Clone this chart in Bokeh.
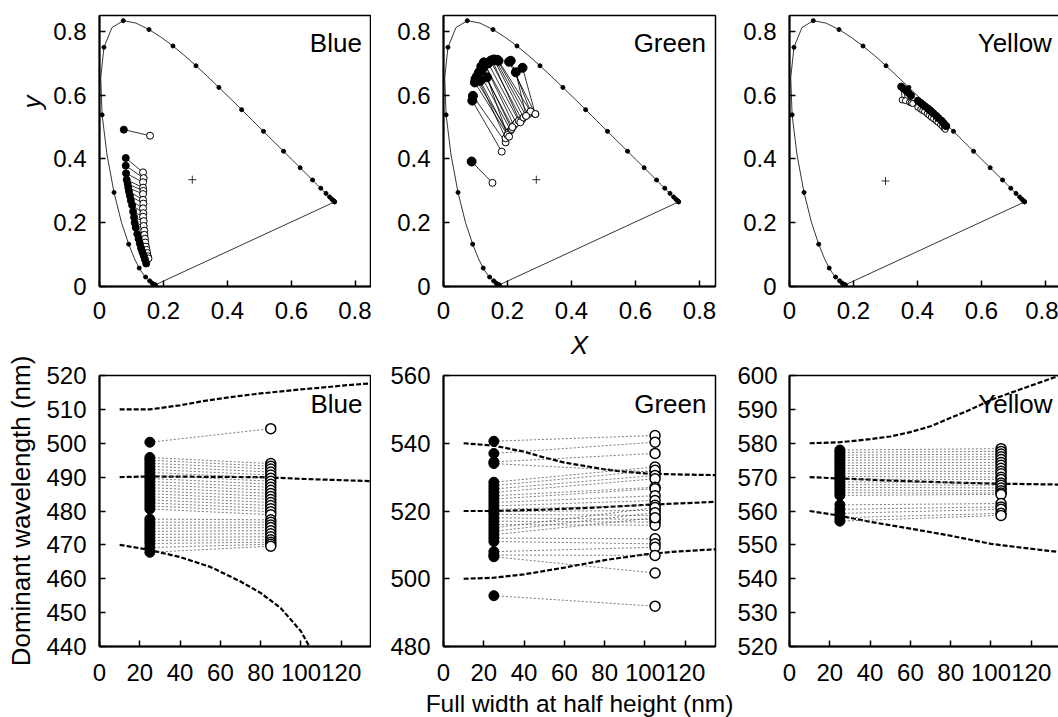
import numpy as np
from bokeh.plotting import figure
from bokeh.layouts import row, column
from bokeh.models import Range1d, FixedTicker, CustomJSTickFormatter, Label, Title
from bokeh.embed import file_html
from bokeh.resources import INLINE

FONT = "Liberation Sans"

# ---------------- CIE 1931 spectral locus ----------------
locus_nm = [380, 390, 400, 410, 420, 430, 440, 445, 450, 455, 460, 465, 470, 475, 480, 485,
            490, 495, 500, 505, 510, 515, 520, 525, 530, 535, 540, 545, 550, 555, 560, 565,
            570, 575, 580, 585, 590, 595, 600, 605, 610, 615, 620, 625, 630, 640, 650, 660,
            670, 680, 690, 700]
locus_x = [0.1741, 0.1738, 0.1733, 0.1726, 0.1714, 0.1689, 0.1644, 0.1611, 0.1566, 0.1510,
           0.1440, 0.1355, 0.1241, 0.1096, 0.0913, 0.0687, 0.0454, 0.0235, 0.0082, 0.0039,
           0.0139, 0.0389, 0.0743, 0.1142, 0.1547, 0.1929, 0.2296, 0.2658, 0.3016, 0.3373,
           0.3731, 0.4087, 0.4441, 0.4788, 0.5125, 0.5448, 0.5752, 0.6029, 0.6270, 0.6482,
           0.6658, 0.6801, 0.6915, 0.7006, 0.7079, 0.7190, 0.7260, 0.7300, 0.7320, 0.7334,
           0.7344, 0.7347]
locus_y = [0.0050, 0.0049, 0.0048, 0.0048, 0.0051, 0.0069, 0.0109, 0.0138, 0.0177, 0.0227,
           0.0297, 0.0399, 0.0578, 0.0868, 0.1327, 0.2007, 0.2950, 0.4127, 0.5384, 0.6548,
           0.7502, 0.8120, 0.8338, 0.8262, 0.8059, 0.7816, 0.7543, 0.7243, 0.6923, 0.6589,
           0.6245, 0.5896, 0.5547, 0.5202, 0.4866, 0.4544, 0.4242, 0.3965, 0.3725, 0.3514,
           0.3340, 0.3197, 0.3083, 0.2993, 0.2920, 0.2809, 0.2740, 0.2700, 0.2680, 0.2666,
           0.2656, 0.2653]

white_x = [0.29, 0.29, 0.30]
white_y = [0.335, 0.335, 0.331]

panel_names = ["Blue", "Green", "Yellow"]

# ---------------- chromaticity of narrow (filled) and broad (open) ----------------
blue_nx = [0.076, 0.082, 0.082, 0.083, 0.085, 0.088, 0.090, 0.092, 0.095, 0.098, 0.102, 0.105,
           0.108, 0.110, 0.113, 0.118, 0.122, 0.126, 0.130, 0.134, 0.138, 0.142, 0.146]
blue_ny = [0.492, 0.403, 0.379, 0.355, 0.335, 0.322, 0.310, 0.298, 0.285, 0.270, 0.255, 0.235,
           0.217, 0.200, 0.185, 0.165, 0.150, 0.135, 0.120, 0.108, 0.097, 0.085, 0.072]
blue_bx = [0.158, 0.136, 0.138, 0.136, 0.136, 0.137, 0.136, 0.136, 0.137, 0.136, 0.137, 0.136,
           0.138, 0.138, 0.140, 0.140, 0.142, 0.143, 0.145, 0.147, 0.149, 0.151, 0.153]
blue_by = [0.473, 0.358, 0.340, 0.327, 0.310, 0.300, 0.290, 0.272, 0.260, 0.245, 0.230, 0.219,
           0.205, 0.190, 0.175, 0.162, 0.150, 0.138, 0.125, 0.115, 0.105, 0.095, 0.088]

green_nx = [0.088, 0.090, 0.092, 0.098, 0.100, 0.105, 0.111, 0.118, 0.126, 0.130, 0.136, 0.140,
            0.147, 0.152, 0.158, 0.163, 0.168, 0.172, 0.205, 0.210, 0.226, 0.247, 0.120, 0.115]
green_ny = [0.392, 0.583, 0.598, 0.640, 0.651, 0.660, 0.672, 0.690, 0.703, 0.695, 0.656, 0.700,
            0.708, 0.710, 0.712, 0.710, 0.711, 0.708, 0.705, 0.708, 0.672, 0.686, 0.680, 0.645]
green_bx = [0.153, 0.182, 0.194, 0.200, 0.203, 0.194, 0.210, 0.213, 0.220, 0.228, 0.200, 0.235,
            0.245, 0.240, 0.250, 0.258, 0.265, 0.272, 0.287, 0.272, 0.258, 0.287, 0.215, 0.205]
green_by = [0.325, 0.423, 0.452, 0.475, 0.483, 0.465, 0.490, 0.494, 0.505, 0.513, 0.475, 0.520,
            0.523, 0.515, 0.530, 0.535, 0.540, 0.549, 0.541, 0.549, 0.535, 0.541, 0.500, 0.470]

yellow_nx = [0.349, 0.357, 0.365, 0.372, 0.380, 0.401, 0.410, 0.417, 0.425, 0.433, 0.438, 0.443,
             0.450, 0.459, 0.466, 0.475, 0.480, 0.485, 0.490]
yellow_ny = [0.627, 0.620, 0.614, 0.607, 0.599, 0.583, 0.576, 0.570, 0.564, 0.558, 0.553, 0.549,
             0.543, 0.535, 0.528, 0.520, 0.514, 0.508, 0.503]
yellow_bx = [0.352, 0.362, 0.375, 0.380, 0.385, 0.401, 0.410, 0.416, 0.422, 0.430, 0.436, 0.443,
             0.450, 0.458, 0.464, 0.472, 0.478, 0.483, 0.487]
yellow_by = [0.585, 0.583, 0.578, 0.576, 0.574, 0.562, 0.556, 0.552, 0.549, 0.542, 0.537, 0.531,
             0.526, 0.520, 0.515, 0.508, 0.502, 0.497, 0.493]

# ---------------- dominant wavelength vs FWHM ----------------
narrow_fwhm = [25, 25, 25]
broad_fwhm = [85, 105, 105]

blue_wl_n = [500.3, 495.8, 495.0, 494.1, 493.2, 492.3, 491.4, 490.5, 489.6, 488.7, 487.8, 486.9,
             486.0, 485.1, 484.2, 483.3, 482.4, 481.5, 480.6, 477.6, 476.7, 475.8, 474.9, 474.0,
             473.1, 472.2, 471.3, 470.4, 469.2, 467.8]
blue_wl_b = [504.3, 494.0, 493.2, 492.4, 491.5, 490.6, 489.7, 488.8, 487.9, 487.0, 486.1, 485.2,
             484.3, 483.4, 482.5, 481.6, 480.7, 479.8, 478.9, 477.4, 476.7, 475.9, 475.1, 474.2,
             473.3, 472.4, 471.5, 470.8, 470.2, 469.6]

green_wl_n = [540.6, 537.0, 534.5, 534.0, 528.5, 527.5, 526.5, 525.5, 524.5, 523.5, 522.5, 521.5,
              520.5, 519.8, 519.0, 518.0, 517.0, 516.0, 515.0, 514.0, 513.0, 512.0, 511.0, 508.0,
              507.0, 506.5, 495.0]
green_wl_b = [542.3, 540.3, 537.0, 531.5, 533.0, 532.0, 530.5, 529.5, 527.0, 526.6, 524.5, 523.1,
              521.7, 520.2, 518.7, 517.5, 516.7, 515.8, 521.0, 519.5, 518.0, 511.8, 510.3, 509.3,
              506.9, 501.7, 491.9]

yellow_wl_n = [578.0, 577.3, 576.5, 575.8, 575.0, 574.2, 573.4, 572.6, 571.8, 571.0, 570.2, 569.4,
               568.6, 567.8, 567.0, 566.2, 565.4, 564.6, 561.8, 560.5, 559.3, 558.0, 557.0]
yellow_wl_b = [578.4, 577.6, 576.8, 576.0, 575.2, 574.3, 573.5, 572.6, 571.7, 571.0, 570.0, 569.3,
               568.3, 567.6, 566.8, 566.0, 565.3, 564.9, 562.2, 561.2, 560.5, 559.3, 558.7]

# boundary curves (dashed)
blue_up_x = [10, 25, 40, 50, 60, 70, 80, 90, 100, 110, 120, 135]
blue_up_y = [510, 510, 511.2, 512.3, 513.2, 514, 514.7, 515.3, 515.9, 516.4, 517, 517.7]
blue_mid_x = [10, 25, 50, 80, 100, 135]
blue_mid_y = [490, 490.2, 490.1, 490, 489.5, 488.8]
blue_lo_x = [10, 25, 40, 55, 70, 80, 90, 100, 106]
blue_lo_y = [470, 468.5, 466.4, 463.5, 459.2, 455.8, 451.3, 444.5, 438]

green_up_x = [10, 25, 40, 50, 60, 70, 80, 90, 100, 115, 135]
green_up_y = [540, 539.3, 537.5, 535.8, 534.3, 533.3, 532.3, 531.6, 531.1, 530.8, 530.6]
green_mid_x = [10, 25, 50, 75, 100, 135]
green_mid_y = [520, 520, 520.4, 521, 521.8, 522.7]
green_lo_x = [10, 25, 40, 60, 80, 100, 115, 135]
green_lo_y = [500, 500.3, 501.3, 503.3, 505.5, 507.2, 508, 508.7]

yellow_up_x = [10, 25, 40, 50, 60, 70, 80, 90, 100, 115, 135]
yellow_up_y = [580, 580.3, 581.2, 582, 583.3, 585, 587.5, 590, 592.8, 596, 600.2]
yellow_mid_x = [10, 25, 50, 75, 100, 135]
yellow_mid_y = [570, 569.6, 569, 568.5, 568.1, 567.8]
yellow_lo_x = [10, 25, 40, 60, 80, 100, 115, 135]
yellow_lo_y = [560, 558.6, 556.8, 554.8, 552.7, 550.3, 549.2, 547.8]

wl_ranges = [(440, 520), (480, 560), (520, 600)]
wl_ticks = [list(range(440, 521, 10)), list(range(480, 561, 20)), list(range(520, 601, 10))]
fwhm_ticks = [0, 20, 40, 60, 80, 100, 120]
xy_ticks = [0, 0.2, 0.4, 0.6, 0.8]

FH = 271
FWS = [272, 272, 271]
LEFTS = [99, 72, 53]
RIGHTS = [0, 19, 0]
TOP_BOTTOM = [50, 77, 50]      # bottom border of the chromaticity panels
BOT_TOP = [39, 12, 39]         # top border of the wavelength panels
YSTAND_TOP = [13, 13, 13]
YSTAND_BOT = [13, 13, 12]


def style(p, xstand, ystand):
    p.xgrid.visible = False
    p.ygrid.visible = False
    p.outline_line_color = "black"
    p.outline_line_width = 1.5
    p.background_fill_color = "white"
    p.border_fill_color = "white"
    for ax in (p.xaxis[0], p.yaxis[0]):
        ax.axis_line_width = 2
        ax.axis_line_color = "black"
        ax.major_tick_in = 6
        ax.major_tick_out = 0
        ax.major_tick_line_width = 1.5
        ax.minor_tick_line_color = None
        ax.major_label_text_font = FONT
        ax.major_label_text_font_size = "24px"
        ax.major_label_text_color = "black"
        ax.axis_label_text_font = FONT
        ax.axis_label_text_font_size = "26px"
        ax.axis_label_text_color = "black"
        ax.axis_label_text_font_style = "normal"
    p.xaxis[0].major_label_standoff = xstand
    p.yaxis[0].major_label_standoff = ystand


def panel_label(p, x, y, text):
    p.add_layout(Label(x=x, y=y, text=text, text_align="right", text_baseline="middle",
                       text_font=FONT, text_font_size="26px", text_color="black"))


top_data = [(blue_nx, blue_ny, blue_bx, blue_by, 7, 7),
            (green_nx, green_ny, green_bx, green_by, 9, 7),
            (yellow_nx, yellow_ny, yellow_bx, yellow_by, 7, 6)]
bot_data = [(blue_wl_n, blue_wl_b, [(blue_up_x, blue_up_y), (blue_mid_x, blue_mid_y), (blue_lo_x, blue_lo_y)]),
            (green_wl_n, green_wl_b, [(green_up_x, green_up_y), (green_mid_x, green_mid_y), (green_lo_x, green_lo_y)]),
            (yellow_wl_n, yellow_wl_b, [(yellow_up_x, yellow_up_y), (yellow_mid_x, yellow_mid_y), (yellow_lo_x, yellow_lo_y)])]

lnm = np.array(locus_nm)
lx = np.array(locus_x)
ly = np.array(locus_y)
dots = (lnm % 10) == 0

top_figs = []
for i in range(3):
    fw = FWS[i]
    p = figure(x_range=Range1d(0, 0.85 * fw / 272), y_range=Range1d(0, 0.85),
               frame_width=fw, frame_height=FH,
               min_border_left=LEFTS[i], min_border_right=RIGHTS[i],
               min_border_top=15, min_border_bottom=TOP_BOTTOM[i],
               output_backend="svg", toolbar_location=None)
    style(p, 15, YSTAND_TOP[i])
    p.xaxis.ticker = FixedTicker(ticks=xy_ticks)
    p.yaxis.ticker = FixedTicker(ticks=xy_ticks)
    p.xaxis.formatter = CustomJSTickFormatter(code="return String(Number(tick.toFixed(2)));")
    p.yaxis.formatter = CustomJSTickFormatter(code="return String(Number(tick.toFixed(2)));")
    # spectral locus, purple line and its 10 nm marks
    p.line(list(lx) + [lx[0]], list(ly) + [ly[0]], line_color="black", line_width=0.8)
    p.scatter(lx[dots], ly[dots], size=4, color="black")
    p.scatter([white_x[i]], [white_y[i]], marker="cross", size=8, line_color="black", line_width=0.8)
    nx, ny, bx, by, sn, sb = top_data[i]
    p.segment(nx, ny, bx, by, line_color="black", line_width=0.8)
    p.scatter(bx, by, size=sb, fill_color="white", line_color="black", line_width=1)
    p.scatter(nx, ny, size=sn, fill_color="black", line_color="black")
    panel_label(p, 0.82, 0.763, panel_names[i])
    top_figs.append(p)

# "y" title on the left of the first chromaticity panel
ty = Title(text="y", align="right", offset=80, text_font=FONT, text_font_size="26px",
           text_font_style="italic", text_color="black")
if "standoff" in Title.properties():
    ty.standoff = 8
top_figs[0].add_layout(ty, "left")

top_figs[1].xaxis.axis_label = "X"
top_figs[1].xaxis.axis_label_text_font_style = "italic"
top_figs[1].xaxis.axis_label_standoff = 8

bot_figs = []
for i in range(3):
    fw = FWS[i]
    lo, hi = wl_ranges[i]
    p = figure(x_range=Range1d(0, 135 * fw / 272), y_range=Range1d(lo, hi),
               frame_width=fw, frame_height=FH,
               min_border_left=LEFTS[i], min_border_right=RIGHTS[i],
               min_border_top=BOT_TOP[i], min_border_bottom=60,
               output_backend="svg", toolbar_location=None)
    style(p, 17, YSTAND_BOT[i])
    p.xaxis.ticker = FixedTicker(ticks=fwhm_ticks)
    p.yaxis.ticker = FixedTicker(ticks=wl_ticks[i])
    wn, wb, curves = bot_data[i]
    n = len(wn)
    for cx, cy in curves:
        p.line(cx, cy, line_color="black", line_width=2.2, line_dash="5 2")
    p.segment([narrow_fwhm[i]] * n, wn, [broad_fwhm[i]] * n, wb,
              line_color="#555555", line_width=0.8, line_dash="2 2")
    p.scatter([broad_fwhm[i]] * n, wb, size=10, fill_color="white", line_color="black", line_width=1.5)
    p.scatter([narrow_fwhm[i]] * n, wn, size=10, fill_color="black", line_color="black")
    panel_label(p, 130.5, hi - 8.3, panel_names[i])
    bot_figs.append(p)

bot_figs[0].yaxis.axis_label = "Dominant wavelength (nm)"
bot_figs[0].yaxis.axis_label_standoff = 7
bot_figs[1].xaxis.axis_label = "Full width at half height (nm)"
bot_figs[1].xaxis.axis_label_text_font_size = "24.5px"
bot_figs[1].xaxis.axis_label_standoff = 6

layout = row(*[column(top_figs[i], bot_figs[i]) for i in range(3)])
open("out.html", "w").write(file_html(layout, INLINE))
